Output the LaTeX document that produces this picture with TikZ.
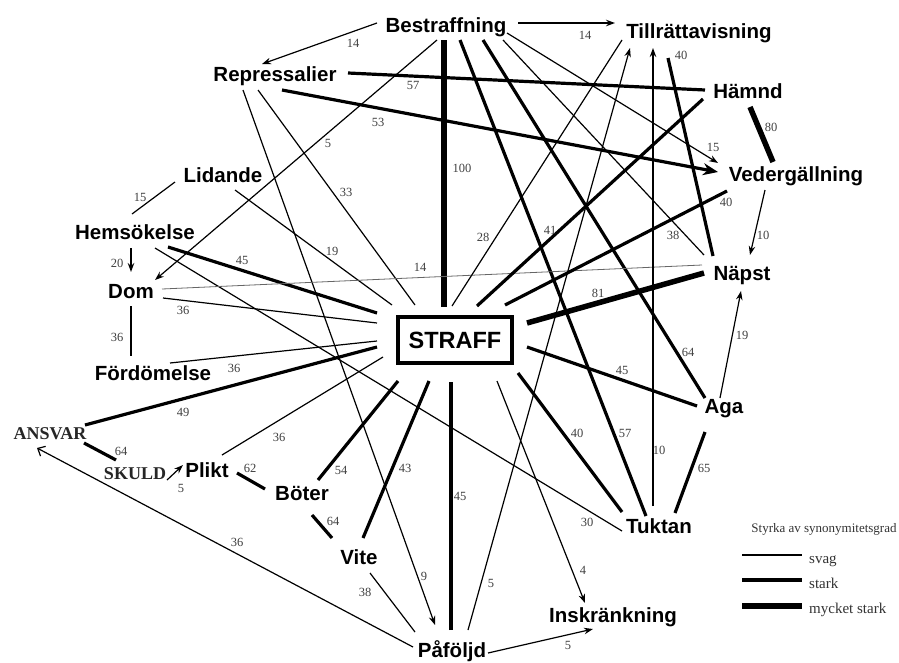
\documentclass[tikz,border=0pt]{standalone}
\usepackage{fontspec}
\setmainfont{Liberation Serif}
\newfontfamily\headfont{Liberation Sans}
\usetikzlibrary{arrows.meta,calc}

% connector between two nodes, each end given as an offset from the node
\newcommand{\cnx}[6]{\draw[#1] ($(#2)+(#3)$) -- ($(#4)+(#5)$) #6;}

\begin{document}
\begin{tikzpicture}[x=1pt,y=-1pt,
  term/.style={font=\headfont\bfseries\fontsize{20.5}{24}\selectfont, inner sep=0pt, anchor=base},
  capterm/.style={font=\bfseries\fontsize{18}{21}\selectfont, inner sep=0pt, anchor=base, text=black!85},
  hub/.style={draw, line width=4pt, minimum width=114pt, minimum height=46pt, inner sep=0pt,
              font=\headfont\bfseries\fontsize{23.5}{28}\selectfont},
  num/.style={font=\fontsize{12.5}{14}\selectfont, text=black!75, inner sep=0pt},
  legtext/.style={font=\fontsize{15}{17}\selectfont, text=black!80, inner sep=0pt, anchor=base west},
  svag/.style={line width=1.2pt},
  stark/.style={line width=3.2pt},
  mstark/.style={line width=5.5pt},
  fin/.style={line width=0.8pt, black!60},
  arr/.style={-{Stealth[length=9pt,width=6.5pt]}},
  arrbig/.style={-{Stealth[length=15pt,width=12pt]}},
  barb/.style={-{Straight Barb[length=6pt,width=11pt]}},
]
\fill[white] (0,0) rectangle (899,662);
\useasboundingbox (0,0) rectangle (899,662);

% terms
\node[term] (bes) at (446,32) {Bestraffning};
\node[term] (til) at (699,38) {Tillrättavisning};
\node[term] (rep) at (275,81) {Repressalier};
\node[term] (ham) at (748,98) {Hämnd};
\node[term] (ved) at (796,181) {Vedergällning};
\node[term] (lid) at (223,182) {Lidande};
\node[term] (hem) at (135,239) {Hemsökelse};
\node[term] (dom) at (131,298) {Dom};
\node[term] (nap) at (742,280) {Näpst};
\node[hub]  (str) at (455,340) {STRAFF};
\node[term] (for) at (153,380) {Fördömelse};
\node[capterm] (ans) at (50,439) {ANSVAR};
\node[capterm] (sku) at (135,479) {SKULD};
\node[term] (pli) at (207,477) {Plikt};
\node[term] (bot) at (302,500) {Böter};
\node[term] (vit) at (359,564) {Vite};
\node[term] (paf) at (452,657) {Påföljd};
\node[term] (ins) at (613,622) {Inskränkning};
\node[term] (tuk) at (659,533) {Tuktan};
\node[term] (aga) at (724,413) {Aga};

% connectors from Bestraffning
\cnx{svag,arr}{bes.base}{-69,-9}{rep.base}{-13,-17}{node[num,at={(353,43)}]{14}}
\cnx{svag,arr}{bes.base}{72,-9}{til.base}{-84,-15}{node[num,at={(585,35)}]{14}}
\cnx{mstark}{bes.base}{-2,8}{str}{-11,-33}{node[num,at={(462,168)}]{100}}
\cnx{svag,arr}{bes.base}{-9,8}{dom.base}{24,-18}{node[num,at={(328,143)}]{5}}
\cnx{stark}{bes.base}{14,8}{tuk.base}{-13,-17}{node[num,at={(625,433)}]{57}}
\cnx{stark}{bes.base}{37,8}{aga.base}{-19,-15}{node[num,at={(688,352)}]{64}}
\cnx{svag,arr}{bes.base}{61,1}{ved.base}{-78,-18}{node[num,at={(713,147)}]{15}}
\cnx{svag}{bes.base}{57,8}{nap.base}{-38,-25}{node[num,at={(673,235)}]{38}}

% from Repressalier
\cnx{stark}{rep.base}{73,-8}{ham.base}{-43,-8}{node[num,at={(413,85)}]{57}}
\cnx{stark,arrbig}{rep.base}{7,9}{ved.base}{-78,-9}{node[num,at={(378,122)}]{53}}
\cnx{svag}{rep.base}{-17,9}{str}{-40,-35}{node[num,at={(346,192)}]{33}}
\cnx{svag,arr}{rep.base}{-32,9}{paf.base}{-17,-32}{node[num,at={(424,576)}]{9}}

% left side
\cnx{svag}{lid.base}{-48,0}{hem.base}{-3,-25}{node[num,at={(140,197)}]{15}}
\cnx{svag}{lid.base}{12,8}{str}{-63,-35}{node[num,at={(332,251)}]{19}}
\cnx{svag,arr}{hem.base}{-4,9}{dom.base}{0,-26}{node[num,at={(117,263)}]{20}}
\cnx{stark}{hem.base}{33,8}{str}{-78,-27}{node[num,at={(242,260)}]{45}}
\cnx{svag}{hem.base}{20,9}{tuk.base}{-37,-2}{node[num,at={(587,522)}]{30}}
\cnx{fin}{dom.base}{31,-9}{nap.base}{-40,-15}{node[num,at={(420,267)}]{14}}
\cnx{svag}{dom.base}{32,0}{str}{-78,-17}{node[num,at={(183,310)}]{36}}
\cnx{svag}{dom.base}{0,8}{for.base}{-22,-24}{node[num,at={(117,337)}]{36}}
\cnx{svag}{for.base}{17,-17}{str}{-78,1}{node[num,at={(234,368)}]{36}}
\cnx{stark}{ans.base}{35,-14}{str}{-78,7}{node[num,at={(183,412)}]{49}}
\cnx{stark}{ans.base}{34,4}{sku.base}{-19,-19}{node[num,at={(121,451)}]{64}}
\cnx{svag,barb}{paf.base}{-39,-10}{ans.base}{-13,9}{node[num,at={(237,542)}]{36}}
\cnx{svag,arr}{sku.base}{32,1}{pli.base}{-24,-12}{node[num,at={(181,488)}]{5}}
\cnx{svag}{pli.base}{15,-22}{str}{-72,17}{node[num,at={(279,437)}]{36}}
\cnx{stark}{pli.base}{30,-4}{bot.base}{-37,-11}{node[num,at={(250,468)}]{62}}

% lower part
\cnx{stark}{bot.base}{16,-20}{str}{-57,41}{node[num,at={(341,470)}]{54}}
\cnx{stark}{bot.base}{10,15}{vit.base}{-27,-26}{node[num,at={(333,521)}]{64}}
\cnx{stark}{vit.base}{4,-26}{str}{-26,41}{node[num,at={(405,468)}]{43}}
\cnx{svag}{vit.base}{11,9}{paf.base}{-37,-25}{node[num,at={(365,592)}]{38}}
\cnx{stark}{paf.base}{-1,-27}{str}{-4,42}{node[num,at={(460,496)}]{45}}
\cnx{svag,arr}{paf.base}{36,-4}{ins.base}{-20,7}{node[num,at={(568,645)}]{5}}
\cnx{svag,arr}{paf.base}{16,-27}{til.base}{-69,10}{node[num,at={(491,583)}]{5}}
\cnx{svag,arr}{str}{42,41}{ins.base}{-28,-19}{node[num,at={(583,570)}]{4}}

% right side
\cnx{stark}{str}{63,33}{tuk.base}{-37,-21}{node[num,at={(577,433)}]{40}}
\cnx{svag,arr}{tuk.base}{-6,-27}{til.base}{-46,10}{node[num,at={(659,450)}]{10}}
\cnx{stark}{tuk.base}{16,-20}{aga.base}{-19,19}{node[num,at={(704,468)}]{65}}
\cnx{svag,arr}{aga.base}{-4,-15}{nap.base}{-1,11}{node[num,at={(742,335)}]{19}}
\cnx{stark}{str}{72,7}{aga.base}{-27,-7}{node[num,at={(622,370)}]{45}}
\cnx{mstark}{str}{72,-17}{nap.base}{-38,-7}{node[num,at={(598,293)}]{81}}
\cnx{stark}{str}{50,-35}{ved.base}{-69,10}{node[num,at={(726,202)}]{40}}
\cnx{svag,arr}{ved.base}{-31,9}{nap.base}{8,-25}{node[num,at={(763,235)}]{10}}
\cnx{mstark}{ham.base}{2,9}{ved.base}{-23,-19}{node[num,at={(771,127)}]{80}}
\cnx{stark}{str}{22,-34}{ham.base}{-45,1}{node[num,at={(550,230)}]{41}}
\cnx{svag}{str}{-3,-34}{til.base}{-77,2}{node[num,at={(483,237)}]{28}}
\cnx{stark}{til.base}{-31,20}{nap.base}{-29,-24}{node[num,at={(681,55)}]{40}}

% legend
\node[font=\fontsize{13}{15}\selectfont, text=black!80, inner sep=0pt, anchor=base] (legtitle) at (824,532) {Styrka av synonymitetsgrad};
\draw[line width=1.2pt] (742,555) -- (802,555);
\draw[line width=4pt] (742,580) -- (802,580);
\draw[line width=6.5pt] (742,606) -- (802,606);
\node[legtext] (legsvag) at (809,563) {svag};
\node[legtext] (legstark) at (809,588) {stark};
\node[legtext] (legmstark) at (809,613) {mycket stark};
\end{tikzpicture}
\end{document}
